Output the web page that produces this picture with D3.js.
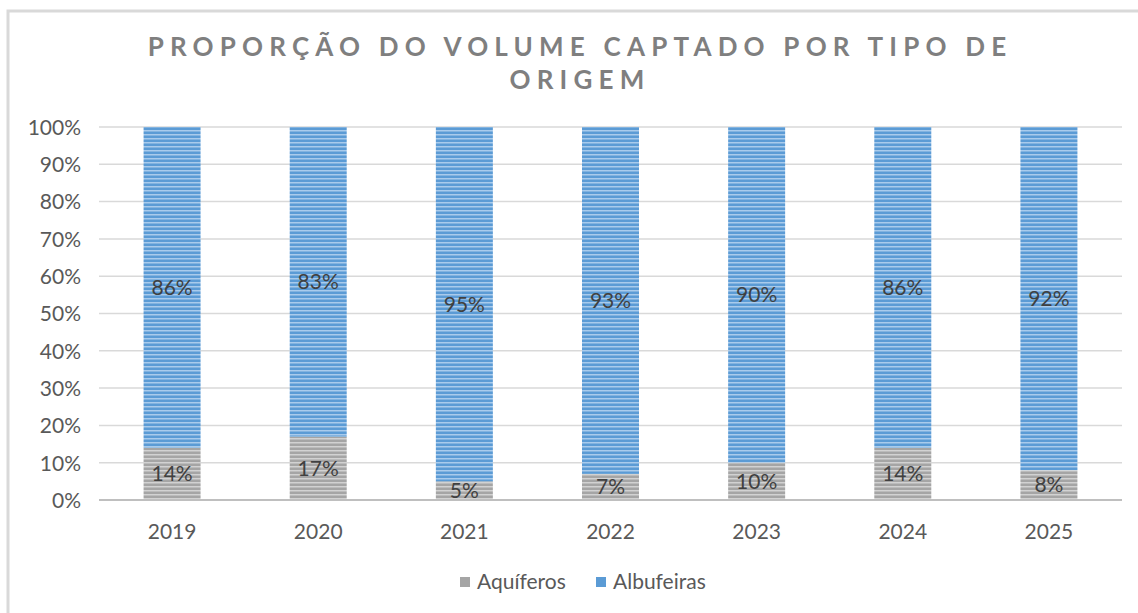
<!DOCTYPE html>
<html>
<head>
<meta charset="utf-8">
<script src="https://cdn.jsdelivr.net/npm/d3@7"></script>
<style>
  body { margin: 0; background: #fff; }
  text { font-family: Lato, "Open Sans", sans-serif; }
</style>
</head>
<body>
<script>
// data
const anos = ["2019", "2020", "2021", "2022", "2023", "2024", "2025"];
const aquiferos = [14, 17, 5, 7, 10, 14, 8];
const albufeiras = [86, 83, 95, 93, 90, 86, 92];
const series = ["Aquíferos", "Albufeiras"];
const yTicks = [0, 10, 20, 30, 40, 50, 60, 70, 80, 90, 100];

const width = 1138;
const height = 613;
const margin = {top: 127, right: 16, bottom: 113, left: 99};

const svg = d3.select("body")
    .append("svg")
    .attr("width", width)
    .attr("height", height);

// striped fills (excel pattern look)
const defs = svg.append("defs");
function stripes(id, base, light) {
  const p = defs.append("pattern")
    .attr("id", id)
    .attr("patternUnits", "userSpaceOnUse")
    .attr("width", 8)
    .attr("height", 4);
  p.append("rect").attr("width", 8).attr("height", 4).attr("fill", base);
  p.append("rect").attr("y", 2).attr("width", 8).attr("height", 1.5).attr("fill", light);
}
stripes("strBlue", "#5b9bd5", "#a9cbec");
stripes("strGray", "#a5a5a5", "#d2d2d2");
const fills = {"Aquíferos": "url(#strGray)", "Albufeiras": "url(#strBlue)"};
const legendFill = {"Aquíferos": "#a5a5a5", "Albufeiras": "#5b9bd5"};

// chart frame
svg.append("rect")
  .attr("x", 8).attr("y", 11)
  .attr("width", width + 20).attr("height", height + 20)
  .attr("fill", "none")
  .attr("stroke", "#d9d9d9")
  .attr("stroke-width", 3);

// title
const title = svg.append("text")
  .attr("text-anchor", "middle")
  .attr("fill", "#7f7f7f")
  .style("font-size", "26px")
  .style("font-weight", "bold")
  .style("letter-spacing", "6.2px");
title.append("tspan").attr("x", 580).attr("y", 56).text("PROPORÇÃO DO VOLUME CAPTADO POR TIPO DE");
title.append("tspan").attr("x", 580).attr("y", 89).text("ORIGEM");

const x = d3.scaleBand()
  .domain(anos)
  .range([margin.left, width - margin.right])
  .paddingInner(0.61)
  .paddingOuter(0.305);

const y = d3.scaleLinear()
  .domain([0, 100])
  .range([height - margin.bottom, margin.top]);

// gridlines
svg.append("g")
  .selectAll("line")
  .data(yTicks)
  .enter()
  .append("line")
  .attr("x1", margin.left)
  .attr("x2", width - margin.right)
  .attr("y1", d => y(d))
  .attr("y2", d => y(d))
  .attr("stroke", "#d9d9d9")
  .attr("stroke-width", 1.5);

// y axis
const yAxis = svg.append("g")
  .attr("transform", `translate(${margin.left - 18},0)`)
  .call(d3.axisLeft(y).tickValues(yTicks).tickFormat(d => d + "%").tickSize(0).tickPadding(0));
yAxis.select(".domain").remove();
yAxis.selectAll("text")
  .attr("fill", "#595959")
  .attr("dy", "0.35em")
  .style("font-size", "21px");

// stacked bars
const rows = anos.map((a, i) => ({ano: a, "Aquíferos": aquiferos[i], "Albufeiras": albufeiras[i]}));
const stack = d3.stack().keys(series)(rows);

const layer = svg.append("g")
  .selectAll("g")
  .data(stack)
  .enter()
  .append("g")
  .attr("fill", d => fills[d.key]);

layer.selectAll("rect")
  .data(d => d)
  .enter()
  .append("rect")
  .attr("x", d => x(d.data.ano))
  .attr("width", x.bandwidth())
  .attr("y", d => y(d[1]))
  .attr("height", d => y(d[0]) - y(d[1]));

// value labels
const lab = svg.append("g")
  .selectAll("g")
  .data(stack)
  .enter()
  .append("g");
lab.selectAll("text")
  .data(d => d.map(v => ({v: v, key: d.key})))
  .enter()
  .append("text")
  .attr("x", d => x(d.v.data.ano) + x.bandwidth() / 2)
  .attr("y", d => y((d.v[0] + d.v[1]) / 2))
  .attr("dy", "0.35em")
  .attr("text-anchor", "middle")
  .attr("fill", "#404040")
  .style("font-size", "21px")
  .text(d => d.v.data[d.key] + "%");

// x axis line
svg.append("line")
  .attr("x1", margin.left)
  .attr("x2", width - margin.right)
  .attr("y1", y(0))
  .attr("y2", y(0))
  .attr("stroke", "#bfbfbf")
  .attr("stroke-width", 2);

const xAxis = svg.append("g")
  .attr("transform", `translate(0,${y(0)})`)
  .call(d3.axisBottom(x).tickSize(0).tickPadding(24));
xAxis.select(".domain").remove();
xAxis.selectAll("text")
  .attr("fill", "#595959")
  .style("font-size", "21px");

// legend
const legend = svg.append("g");
const legX = [460, 596];
series.forEach((s, i) => {
  legend.append("rect")
    .attr("x", legX[i])
    .attr("y", 577)
    .attr("width", 10)
    .attr("height", 10)
    .attr("fill", legendFill[s]);
  legend.append("text")
    .attr("x", legX[i] + 17)
    .attr("y", 582)
    .attr("dy", "0.35em")
    .attr("fill", "#595959")
    .style("font-size", "21px")
    .text(s);
});
</script>
</body>
</html>
